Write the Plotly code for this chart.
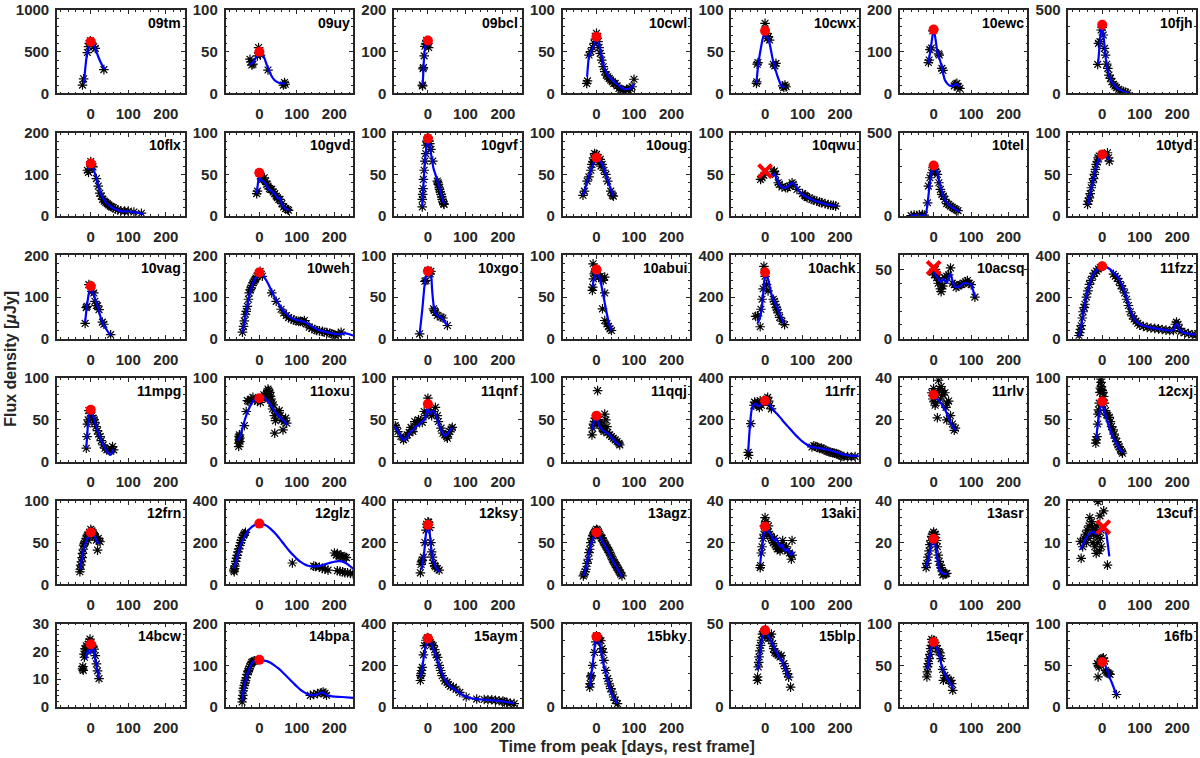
import plotly.graph_objects as go
from plotly.subplots import make_subplots

# panel order, row by row
names = ["09tm", "09uy", "09bcl", "10cwl", "10cwx", "10ewc", "10fjh",
         "10flx", "10gvd", "10gvf", "10oug", "10qwu", "10tel", "10tyd",
         "10vag", "10weh", "10xgo", "10abui", "10achk", "10acsq", "11fzz",
         "11mpg", "11oxu", "11qnf", "11qqj", "11rfr", "11rlv", "12cxj",
         "12frn", "12glz", "12ksy", "13agz", "13aki", "13asr", "13cuf",
         "14bcw", "14bpa", "15aym", "15bky", "15blp", "15eqr", "16fb"]

ymax = [1000, 100, 200, 100, 100, 200, 500,
        200, 100, 100, 100, 100, 500, 100,
        200, 200, 100, 100, 400, 60, 400,
        100, 100, 100, 100, 400, 40, 100,
        100, 400, 400, 100, 40, 40, 20,
        30, 200, 400, 500, 50, 100, 100]

ystep = [500, 50, 100, 50, 50, 100, 500,
         100, 50, 50, 50, 50, 500, 50,
         100, 100, 50, 50, 200, 50, 200,
         50, 50, 50, 50, 200, 20, 50,
         50, 200, 200, 50, 20, 20, 10,
         10, 100, 200, 500, 50, 50, 50]

peak_t = [0] * 34 + [3] + [0] * 7
peak_f = [620, 50, 127, 68, 75, 153, 412,
          126, 52, 93, 70, 54, 303, 74,
          126, 159, 81, 83, 319, 51, 348,
          62, 76, 69, 55, 292, 32, 72,
          62, 291, 285, 62, 27.7, 21.8, 13.7,
          22.6, 113, 329, 421, 46, 78, 54]

# peaks marked with a cross instead of a dot
cross_peaks = ["10qwu", "10acsq", "13cuf"]

xticks = [0, 100, 200]

# observations (t_) and fitted curves (ft_) per object
t_09tm = [-22, -19, -9, -6, -4, -1, 2, 8, 12, 35]
f_09tm = [100, 175, 490, 560, 600, 630, 610, 560, 540, 285]
ft_09tm = [-18, -14, -10, -5, 0, 5, 10, 20, 30, 37]
ff_09tm = [120, 330, 470, 570, 615, 605, 560, 440, 340, 290]

t_09uy = [-25, -22, -20, -17, -5, -2, 0, 3, 23, 64, 67, 69]
f_09uy = [41, 38, 34, 35, 45, 55, 49, 46, 28, 10, 13, 11]
ft_09uy = [-26, -20, -15, -8, -3, 0, 5, 12, 20, 30, 40, 50, 60, 68]
ff_09uy = [35, 36, 38, 44, 48, 50, 48, 44, 34, 23, 16, 13, 12, 12]

t_09bcl = [-15, -14, -13, -12, -10, -8, -6, -3, 0, 2]
f_09bcl = [20, 18, 59, 62, 90, 113, 118, 127, 120, 110]
ft_09bcl = [-14, -12, -10, -7, -4, 0]
ff_09bcl = [20, 55, 90, 112, 122, 127]

t_10cwl = [-26, -24, -20, -15, -10, -6, -3, 0, 2, 4, 7, 10, 14, 18, 22, 26, 30, 34, 38, 42,
           46, 50, 55, 60, 65, 70, 75, 80, 85, 90, 95, 100]
f_10cwl = [12, 15, 46, 50, 55, 60, 65, 72, 66, 62, 55, 48, 40, 32, 26, 22, 20, 18, 16, 14,
           12, 12, 9, 6, 5, 4, 3, 5, 4, 6, 8, 17]
ft_10cwl = [-25, -20, -15, -8, -3, 0, 5, 10, 15, 20, 30, 40, 50, 60, 70, 80, 90, 100]
ff_10cwl = [20, 44, 50, 56, 64, 68, 62, 52, 42, 32, 22, 17, 13, 9, 6, 5, 6, 11]

t_10cwx = [-23, -22, -21, -19, 0, 3, 6, 9, 12, 22, 26, 29, 47, 50, 53, 56]
f_10cwx = [12, 14, 35, 37, 84, 72, 66, 68, 64, 35, 33, 36, 9, 7, 10, 8]
ft_10cwx = [-23, -18, -12, -6, 0, 6, 12, 20, 28, 36, 44, 52]
ff_10cwx = [12, 35, 52, 66, 73, 68, 60, 42, 28, 17, 9, 7]

t_10ewc = [-14, -12, -10, -6, -2, 13, 15, 22, 25, 55, 58, 62, 65, 70]
f_10ewc = [74, 80, 105, 109, 150, 95, 92, 60, 55, 18, 22, 24, 15, 12]
ft_10ewc = [-14, -10, -5, 0, 5, 10, 15, 20, 25, 30, 38, 45, 52, 58, 64, 68]
ff_10ewc = [72, 95, 125, 153, 130, 100, 85, 70, 50, 32, 22, 18, 18, 23, 20, 17]

t_10fjh = [-12, -10, -6, -3, 0, 3, 6, 9, 12, 15, 18, 22, 26, 30, 34, 38, 44, 50, 56, 62, 68]
f_10fjh = [174, 300, 310, 380, 395, 350, 270, 230, 175, 150, 110, 90, 70, 55, 45, 35, 25, 15, 12, 6, 2]
ft_10fjh = [-11, -8, -5, -2, 0, 3, 6, 10, 15, 20, 25, 30, 40, 50, 60, 70]
ff_10fjh = [175, 260, 340, 395, 410, 360, 290, 200, 130, 95, 70, 55, 32, 18, 8, 3]

t_10flx = [-9, -6, -3, 0, 3, 6, 15, 20, 24, 28, 32, 36, 40, 44, 48, 52, 56, 60, 66, 72, 80, 90,
           100, 115, 135]
f_10flx = [110, 105, 113, 131, 120, 118, 90, 72, 55, 48, 40, 36, 33, 30, 27, 24, 22, 20, 17, 15,
           13, 12, 12, 10, 7]
ft_10flx = [-8, 0, 5, 10, 15, 20, 25, 30, 40, 50, 60, 70, 80, 100, 120, 140]
ff_10flx = [112, 126, 118, 105, 90, 73, 58, 47, 33, 25, 19, 15, 12, 11, 9, 5]

t_10gvd = [-7, -5, 0, 3, 6, 9, 13, 17, 20, 23, 27, 30, 33, 37, 41, 45, 48, 52, 55, 60, 65, 70, 75, 78]
f_10gvd = [27, 30, 52, 48, 45, 44, 46, 42, 38, 36, 33, 32, 32, 29, 27, 24, 22, 20, 20, 15, 11, 9, 8, 7]
ft_10gvd = [-7, -3, 0, 5, 10, 15, 20, 25, 30, 35, 40, 45, 50, 55, 60, 65, 70, 78]
ff_10gvd = [27, 42, 52, 43, 42, 40, 36, 32, 31, 29, 27, 24, 21, 22, 14, 11, 9, 7]

t_10gvf = [-15, -15, -14, -13, -12, -10, -8, -6, -5, -3, 0, 3, 5, 8, 13, 25, 27, 28, 30, 31, 33,
           35, 37, 38, 40, 42, 43]
f_10gvf = [11, 20, 26, 33, 44, 55, 66, 75, 85, 90, 94, 90, 87, 80, 66, 42, 40, 38, 34, 32, 29,
           26, 23, 20, 17, 15, 14]
ft_10gvf = [-15, -12, -9, -6, -3, 0, 3, 6, 10, 15, 20, 25, 30, 35, 40, 43]
ff_10gvf = [11, 35, 58, 75, 86, 90, 88, 82, 70, 57, 50, 43, 35, 27, 19, 15]

t_10oug = [-36, -32, -25, -20, -15, -12, -10, -8, -5, -3, 0, 2, 5, 8, 10, 12, 15, 20, 25, 30, 38, 42, 45]
f_10oug = [25, 30, 42, 47, 55, 62, 65, 70, 75, 72, 74, 68, 70, 65, 68, 60, 62, 55, 50, 42, 30, 25, 24]
ft_10oug = [-36, -30, -25, -20, -15, -10, -5, 0, 5, 10, 15, 20, 25, 30, 35, 40, 45]
ff_10oug = [25, 33, 42, 48, 55, 61, 66, 70, 69, 66, 62, 56, 50, 43, 36, 30, 24]

t_10qwu = [-12, -8, -3, 22, 25, 28, 35, 38, 45, 55, 60, 65, 72, 75, 85, 100, 105, 108, 112, 118,
           125, 130, 138, 145, 150, 160, 168, 175, 182, 188]
f_10qwu = [44, 46, 49, 53, 54, 50, 40, 38, 35, 34, 34, 36, 40, 38, 32, 27, 25, 24, 22, 22,
           20, 19, 18, 17, 16, 15, 14, 13, 13, 12]
ft_10qwu = [20, 25, 30, 38, 48, 58, 66, 73, 80, 90, 100, 110, 120, 135, 150, 165, 180, 190]
ff_10qwu = [48, 51, 46, 38, 34, 35, 38, 40, 37, 30, 26, 23, 21, 18, 16, 14, 13, 12]

t_10tel = [-60, -52, -45, -38, -30, -25, -16, -14, -10, -5, -2, 0, 3, 6, 10, 14, 18, 22, 26, 30,
           35, 40, 45, 50, 55, 60, 65]
f_10tel = [3, 6, 4, 8, 10, 6, 80, 180, 230, 260, 290, 300, 280, 270, 250, 200, 160, 130, 120, 100,
           75, 70, 60, 53, 45, 38, 33]
ft_10tel = [-62, -45, -30, -22, -16, -10, -5, 0, 5, 10, 15, 20, 25, 30, 40, 50, 60, 68]
ff_10tel = [3, 4, 4, 6, 80, 200, 270, 300, 290, 260, 210, 165, 125, 95, 68, 52, 38, 28]

t_10tyd = [-39, -37, -34, -32, -29, -26, -23, -21, -18, -16, -13, -11, -8, 14, 17, 19]
f_10tyd = [14, 18, 22, 27, 34, 40, 45, 50, 56, 62, 65, 70, 72, 76, 70, 66]
ft_10tyd = [-39, -32, -25, -18, -10, -5, 0, 5, 10, 15, 18]
ff_10tyd = [14, 27, 42, 56, 67, 72, 74, 74, 73, 70, 67]

t_10vag = [-15, -12, -10, -5, 0, 3, 8, 11, 15, 18, 22, 31, 35, 53]
f_10vag = [37, 75, 78, 130, 128, 114, 110, 90, 80, 79, 70, 40, 35, 10]
ft_10vag = [-15, -10, -5, 0, 5, 10, 15, 20, 25, 30, 35, 40, 45, 53]
ff_10vag = [40, 80, 110, 126, 114, 100, 86, 72, 55, 42, 32, 25, 18, 8]

t_10weh = [-45, -42, -40, -37, -35, -32, -29, -27, -24, -22, -19, -17, -14, -11, -9, -6, -2, 2, 8,
           33, 45, 58, 65, 72, 78, 85, 92, 98, 105, 110, 115, 120, 125, 133, 140, 148, 153, 160,
           168, 173, 180, 188, 193, 198, 203, 210, 218]
f_10weh = [16, 30, 43, 59, 66, 78, 95, 110, 118, 122, 128, 134, 138, 142, 146, 150, 158, 162, 150,
           110, 90, 71, 62, 56, 51, 48, 45, 43, 42, 42, 41, 44, 36, 28, 25, 22, 20, 19,
           18, 16, 15, 14, 12, 10, 8, 10, 16]
ft_10weh = [-45, -40, -35, -30, -25, -20, -15, -10, -5, 0, 10, 20, 30, 40, 50, 60, 70, 80, 90, 100,
            110, 120, 130, 140, 150, 160, 170, 180, 190, 200, 210, 220, 230, 240, 250]
ff_10weh = [15, 40, 65, 90, 110, 125, 137, 146, 154, 159, 152, 138, 120, 101, 86, 72, 62, 54, 48, 45,
            43, 41, 36, 30, 25, 21, 18, 16, 14, 12, 11, 12, 13, 11, 8]

t_10xgo = [-22, -8, -5, 0, 3, 6, 8, 15, 17, 20, 25, 35, 40, 52]
f_10xgo = [6, 69, 70, 82, 80, 78, 81, 36, 34, 32, 28, 26, 25, 16]
ft_10xgo = [-22, -15, -8, -3, 0, 4, 8, 11, 14, 17, 22, 28, 35, 42, 52]
ff_10xgo = [6, 35, 68, 79, 80, 80, 78, 60, 45, 34, 29, 27, 26, 22, 16]

t_10abui = [-11, -10, -9, -8, -6, -4, -2, 0, 3, 6, 10, 14, 18, 22, 22, 16, 22, 28, 32, 36, 40]
f_10abui = [58, 62, 90, 72, 78, 80, 84, 83, 78, 74, 75, 72, 70, 74, 55, 36, 22, 18, 15, 12, 10]
ft_10abui = [-11, -6, -3, 0, 5, 10, 15, 20, 25, 30, 35, 40]
ff_10abui = [62, 74, 80, 83, 78, 70, 60, 48, 36, 25, 16, 10]

t_10achk = [-25, -20, -13, -11, -8, -5, -3, 0, 4, 8, 22, 25, 27, 30, 32, 35, 39, 45, 52]
f_10achk = [108, 110, 58, 142, 190, 240, 348, 300, 261, 230, 190, 180, 166, 150, 142, 125, 103, 85, 68]
ft_10achk = [-20, -15, -10, -6, -3, 0, 3, 6, 10, 15, 20, 25, 30, 35, 40, 45, 50]
ff_10achk = [75, 95, 130, 190, 260, 300, 312, 300, 270, 230, 195, 178, 160, 140, 115, 95, 75]

t_10acsq = [-3, 2, 5, 8, 10, 12, 15, 18, 20, 22, 25, 30, 35, 40, 45, 50, 55, 60, 65, 70, 75, 80,
            85, 90, 95, 100, 110]
f_10acsq = [48, 46, 50, 44, 46, 40, 42, 36, 34, 38, 38, 44, 45, 46, 51, 40, 39, 37, 38, 39, 39, 40,
            41, 42, 40, 39, 30]
ft_10acsq = [0, 5, 10, 15, 20, 25, 30, 35, 40, 45, 50, 55, 60, 70, 80, 90, 100, 105, 110]
ff_10acsq = [48, 46, 44, 42, 41, 43, 42, 40, 44, 47, 42, 38, 37, 38, 40, 40, 39, 35, 30]

t_11fzz = [-62, -60, -58, -56, -53, -51, -48, -46, -42, -38, -34, -30, -25, -20, -15, -10, -5, 0,
           30, 35, 40, 45, 50, 55, 60, 65, 70, 75, 80, 85, 90, 95, 100, 110, 120, 130, 140, 150,
           160, 170, 180, 190, 195, 198, 202, 205, 210, 220, 230, 240, 250]
f_11fzz = [16, 30, 45, 63, 100, 130, 150, 166, 200, 230, 261, 280, 300, 315, 325, 335, 342, 348,
           310, 300, 290, 275, 255, 240, 220, 190, 160, 130, 110, 95, 85, 75, 65, 60, 55, 52, 50, 48,
           45, 42, 40, 40, 70, 80, 70, 50, 35, 30, 25, 20, 18]
ft_11fzz = [-62, -55, -48, -40, -32, -25, -15, -5, 0, 10, 20, 30, 40, 50, 60, 70, 80, 90, 100,
            120, 140, 160, 180, 190, 195, 200, 205, 215, 230, 250]
ff_11fzz = [10, 75, 155, 225, 275, 305, 330, 345, 348, 345, 335, 318, 300, 268, 220, 165, 115, 85, 70,
            58, 50, 45, 40, 42, 65, 72, 48, 32, 25, 20]

t_11mpg = [-12, -10, -9, -7, -5, -2, 3, 6, 9, 11, 14, 18, 21, 25, 28, 33, 38, 43, 50, 55, 58, 61]
f_11mpg = [16, 30, 45, 50, 61, 58, 55, 52, 50, 47, 42, 37, 33, 30, 25, 20, 16, 14, 13, 15, 18, 14]
ft_11mpg = [-12, -9, -6, -3, 0, 3, 7, 12, 17, 22, 27, 32, 37, 42, 47, 52, 56, 60]
ff_11mpg = [16, 35, 52, 60, 61, 58, 54, 46, 38, 32, 26, 21, 17, 13, 10, 8, 10, 15]

t_11oxu = [-55, -55, -54, -54, -53, -52, -52, -40, -35, -32, -28, -22, -17, -12, -5, 3, 8, 12, 15,
           18, 20, 22, 23, 25, 26, 28, 30, 32, 33, 35, 37, 40, 41, 43, 46, 50, 53, 56, 60, 63, 66,
           70, 73]
f_11oxu = [18, 22, 26, 30, 32, 24, 28, 43, 60, 73, 72, 75, 77, 74, 72, 71, 76, 80, 78,
           77, 82, 84, 87, 85, 80, 83, 78, 75, 70, 63, 68, 55, 34, 49, 60, 58, 61, 55, 50, 38, 48,
           52, 46]
ft_11oxu = [-55, -50, -45, -40, -35, -30, -25, -20, -15, -10, -5, 0, 5, 10, 15, 20, 25, 30, 35, 40,
            45, 50, 55, 60, 65, 70, 75]
ff_11oxu = [25, 33, 40, 48, 55, 61, 66, 70, 73, 75, 76, 76, 77, 77, 76, 74, 71, 68, 64, 61,
            58, 55, 53, 51, 49, 46, 44]

t_11qnf = [-87, -85, -80, -72, -65, -60, -55, -50, -45, -42, -40, -35, -30, -25, -20, -15, -10, -5,
           0, 3, 8, 10, 15, 20, 25, 28, 35, 40, 45, 50, 52, 55, 58, 62, 65]
f_11qnf = [43, 41, 36, 30, 26, 28, 32, 35, 41, 38, 36, 48, 45, 50, 49, 47, 60, 55,
           76, 62, 58, 55, 60, 65, 55, 48, 40, 34, 32, 30, 28, 33, 36, 39, 41]
ft_11qnf = [-90, -82, -75, -68, -62, -55, -48, -40, -32, -25, -18, -10, -5, -2, 0, 3, 6, 10, 15,
            20, 25, 30, 35, 40, 45, 50, 55, 60, 65]
ff_11qnf = [42, 38, 32, 27, 26, 30, 35, 38, 42, 44, 47, 50, 56, 64, 66, 60, 57, 60, 60,
            57, 50, 44, 38, 34, 31, 32, 35, 38, 41]

t_11qqj = [-12, -10, -8, -5, -3, 0, 3, 5, 8, 10, 13, 15, 18, 20, 22, 25, 28, 30, 35, 40, 45, 50,
           55, 60, 62]
f_11qqj = [32, 40, 45, 48, 52, 55, 85, 50, 47, 45, 43, 40, 38, 36, 57, 50, 42, 35, 32, 30, 28, 26,
           24, 22, 20]
ft_11qqj = [-12, -8, -4, 0, 4, 8, 12, 18, 25, 32, 40, 48, 55, 63]
ff_11qqj = [38, 46, 52, 54, 48, 42, 40, 37, 35, 33, 29, 25, 22, 19]

t_11rfr = [-45, -44, -38, -30, -28, -25, -22, -18, -15, -13, -10, -5, 0, 5, 7, 10, 12, 17, 125,
           130, 135, 140, 145, 150, 155, 160, 165, 170, 175, 180, 185, 190, 195, 200, 205, 210,
           220, 230, 240]
f_11rfr = [44, 30, 182, 270, 285, 280, 275, 269, 260, 292, 270, 285, 292, 300, 308, 290, 269, 253, 70,
           76, 72, 68, 63, 65, 60, 55, 50, 47, 45, 42, 40, 38, 35, 30, 25, 24,
           24, 22, 24]
ft_11rfr = [-45, -40, -35, -30, -25, -20, -15, -10, -5, 0, 5, 10, 20, 30, 40, 50, 60, 70, 80, 90,
            100, 110, 120, 130, 140, 150, 160, 170, 180, 190, 200, 210, 220, 235, 250]
ff_11rfr = [45, 180, 255, 272, 278, 268, 266, 275, 282, 290, 288, 275, 252, 232, 212, 190, 170, 150,
            130, 112, 96, 83, 72, 68, 66, 63, 60, 56, 50, 44, 38, 33, 29, 27, 28]

t_11rlv = [-5, -2, 0, 2, 4, 5, 7, 10, 10, 13, 15, 18, 20, 22, 25, 30, 33, 35, 35, 40, 45, 50, 55, 58]
f_11rlv = [33, 30, 35, 29, 27, 28, 32, 21, 33, 39, 35, 30, 36, 34, 32, 33, 26, 28, 20, 29, 22, 18, 15, 16]
ft_11rlv = [0, 5, 10, 15, 20, 25, 30, 35, 40, 45, 50, 58]
ff_11rlv = [32, 31, 30, 29, 28, 26, 25, 23, 21, 19, 17, 15]

t_12cxj = [-17, -16, -14, -12, -11, -10, -8, -6, -5, -4, -3, -2, 0, 2, 4, 6, 9, 12, 15, 19, 22,
           25, 29, 32, 35, 39, 42, 45, 49, 52, 54]
f_12cxj = [22, 26, 30, 45, 57, 62, 70, 83, 88, 99, 95, 90, 85, 83, 78, 70, 61, 56, 55, 53, 48,
           42, 38, 33, 28, 24, 20, 18, 14, 12, 10]
ft_12cxj = [-16, -13, -10, -7, -4, -2, 0, 3, 6, 10, 15, 20, 25, 30, 35, 40, 45, 50, 54]
ff_12cxj = [27, 40, 50, 60, 67, 70, 71, 66, 60, 53, 46, 39, 33, 28, 24, 20, 16, 13, 11]

t_12frn = [-29, -28, -27, -25, -23, -22, -20, -19, -17, -15, -12, -10, -9, -7, -5, -3, 0, 3, 6, 8,
           10, 12, 15, 18, 20, 22, 25]
f_12frn = [15, 18, 23, 27, 32, 37, 42, 47, 49, 51, 55, 57, 59, 53, 60, 62, 66, 64, 62, 60,
           58, 57, 53, 41, 55, 52, 51]
ft_12frn = [-29, -25, -20, -15, -10, -5, 0, 4, 8, 12, 16, 20]
ff_12frn = [18, 28, 40, 48, 54, 58, 62, 63, 60, 56, 52, 48]

t_12glz = [-68, -67, -66, -65, -63, -61, -59, -57, -55, -52, -50, -48, -45, -42, -40, -37, 88, 145,
           150, 160, 168, 175, 183, 200, 205, 208, 212, 215, 218, 222, 228, 232, 208, 215, 222,
           228, 235, 243, 250]
f_12glz = [68, 60, 75, 87, 110, 125, 139, 155, 170, 186, 200, 210, 225, 235, 242, 249, 102, 87,
           85, 82, 76, 72, 68, 150, 140, 147, 138, 135, 139, 130, 130, 128, 65, 62, 60,
           55, 55, 52, 50]
ft_12glz = [-67, -60, -50, -40, -30, -20, -10, 0, 10, 20, 30, 40, 50, 60, 70, 80, 90, 100, 110,
            120, 130, 140, 150, 160, 170, 180, 190, 200, 210, 220, 230, 240, 250]
ff_12glz = [75, 125, 185, 225, 256, 275, 287, 291, 289, 280, 266, 248, 228, 205, 182, 160, 140, 122,
            107, 96, 89, 86, 86, 88, 93, 98, 104, 108, 111, 110, 102, 90, 75]

t_12ksy = [-20, -18, -17, -15, -12, -8, -5, -3, 0, 2, 5, 8, 10, 12, 15, 18, 20, 25, 30]
f_12ksy = [55, 95, 107, 115, 130, 200, 260, 288, 300, 297, 272, 200, 155, 130, 100, 90, 84, 75, 68]
ft_12ksy = [-17, -13, -9, -6, -3, 0, 3, 6, 9, 12, 16, 20, 25, 30]
ff_12ksy = [70, 110, 170, 230, 270, 285, 270, 225, 165, 125, 100, 85, 70, 60]

t_13agz = [-35, -33, -30, -28, -25, -22, -20, -18, -15, -12, -10, -8, -5, -3, 0, 3, 5, 8, 10, 13,
           15, 18, 20, 23, 25, 28, 30, 33, 35, 38, 40, 43, 45, 48, 50, 53, 55, 58, 60, 63, 65, 68]
f_13agz = [10, 12, 15, 18, 25, 30, 38, 42, 50, 55, 58, 60, 62, 64, 66, 65, 63, 60, 58, 56,
           55, 52, 50, 48, 46, 44, 42, 40, 38, 35, 33, 30, 28, 26, 24, 22, 20, 18, 16, 14, 12, 10]
ft_13agz = [-35, -30, -25, -20, -15, -10, -5, 0, 5, 10, 15, 20, 25, 30, 35, 40, 45, 50, 55, 60, 65, 68]
ff_13agz = [10, 17, 27, 37, 47, 54, 59, 61, 59, 56, 52, 48, 44, 40, 35, 31, 27, 23, 19, 15, 11, 9]

t_13aki = [-13, -12, -10, -8, -5, -3, -2, 0, 2, 3, 5, 7, 9, 12, 15, 17, 20, 22, 25, 27, 30, 33, 35,
           37, 40, 43, 47, 50, 53, 57, 60, 65, 70, 72, 72]
f_13aki = [8, 9, 15, 18, 22, 24, 28, 32, 30, 26, 25, 25, 28, 24, 23, 22, 21, 20, 22, 19, 18, 17, 18,
           17, 16, 19, 21, 18, 17, 18, 16, 15, 12, 21, 14]
ft_13aki = [-13, -8, -4, 0, 5, 10, 15, 20, 25, 30, 35, 40, 45, 50, 55, 60, 65, 70, 73]
ff_13aki = [10, 18, 24, 27, 26, 25, 24, 22, 21, 22, 20, 18, 19, 17, 16, 17, 15, 14, 16]

t_13asr = [-20, -18, -15, -12, -10, -7, -5, -3, 0, 3, 5, 8, 10, 12, 15, 18, 20, 23, 25, 28, 32, 35]
f_13asr = [8, 10, 13, 16, 19, 21, 23, 24, 25, 24, 24, 21, 18, 14, 11, 9, 8, 6, 4.5, 5, 5, 5.2]
ft_13asr = [-20, -15, -10, -5, -2, 0, 3, 6, 10, 14, 18, 22, 28, 35]
ff_13asr = [8, 12, 16, 20, 21.5, 21.8, 20, 17, 12, 8, 6, 5.5, 5, 5]

t_13cuf = [-58, -56, -52, -48, -45, -42, -40, -38, -35, -33, -30, -28, -26, -24, -22, -20, -18, -16,
           -16, -14, -12, -11, -10, -8, -6, -5, -3, -2, 4, 14]
f_13cuf = [10.3, 6.2, 9, 11, 12, 10, 13, 11, 14, 16, 12, 15, 13.6, 10, 12, 9, 13, 11.7,
           7.4, 14, 10, 19.8, 12, 8, 16.4, 11, 13, 9, 17.6, 4.6]
ft_13cuf = [-58, -50, -40, -30, -24, -18, -12, -6, 0, 5, 10, 15, 19]
ff_13cuf = [8.3, 9.8, 11.5, 12.4, 12.6, 12.1, 12.5, 13.3, 12.8, 13.2, 12.5, 9.5, 6.7]

t_14bcw = [-22, -21, -20, -18, -17, -15, -14, -12, -10, -6, -4, -2, 0, 3, 6, 9, 12, 15, 18, 22]
f_14bcw = [13.7, 14.5, 13.2, 19, 17.9, 21, 20.8, 22, 21.5, 22.6, 23.5, 24.4, 23, 22, 21.5, 20.8,
           18.5, 15.5, 13, 10.2]
ft_14bcw = [-13, -10, -7, -4, -1, 2, 5, 8, 11, 14, 18, 22]
ff_14bcw = [17, 19, 20.5, 19.5, 19.2, 20.5, 21.5, 20.5, 18, 15.5, 13, 10.2]

t_14bpa = [-46, -45, -44, -43, -42, -40, -38, -37, -35, -33, -30, -29, -27, -25, -22, -20, -17, -14,
           -12, 136, 145, 155, 165, 170, 175, 179]
f_14bpa = [12, 20, 28, 39, 45, 52, 58, 63, 70, 78, 84, 87, 92, 97, 103, 107, 109, 110,
           111, 28, 30, 32, 34, 36, 33, 28]
ft_14bpa = [-46, -42, -38, -34, -30, -25, -20, -15, -10, -5, 0, 10, 20, 30, 40, 50, 60, 70, 80, 90,
            100, 110, 120, 130, 140, 150, 160, 165, 170, 180, 190, 200, 220, 250]
ff_14bpa = [15, 40, 58, 72, 84, 96, 104, 109, 112, 113, 113, 112, 110, 106, 100, 93, 85, 76, 67, 58,
            49, 41, 35, 30, 28, 29, 33, 35, 34, 28, 26, 25, 24, 22]

t_15aym = [-20, -19, -18, -17, -15, -12, -9, -5, -2, 0, 3, 6, 10, 14, 18, 22, 26, 30, 34, 38, 45,
           51, 55, 60, 68, 75, 85, 102, 130, 150, 160, 170, 180, 190, 200, 204, 210, 220, 230]
f_15aym = [127, 150, 160, 175, 190, 250, 294, 320, 330, 333, 320, 310, 300, 294, 275, 250, 238, 200,
           175, 150, 125, 119, 108, 100, 95, 85, 70, 48, 38, 36, 35, 35, 32, 30, 28, 24, 22, 18, 16]
ft_15aym = [-20, -15, -10, -5, 0, 5, 10, 15, 20, 25, 30, 35, 40, 50, 60, 70, 80, 90, 100, 120, 140,
            160, 180, 200, 215, 230]
ff_15aym = [140, 190, 250, 300, 330, 318, 300, 275, 250, 222, 195, 172, 150, 118, 98, 85, 73, 60, 50,
            40, 36, 34, 31, 27, 22, 18]

t_15bky = [-18, -17, -15, -14, -10, -5, -2, 0, 3, 6, 9, 12, 15, 17, 20, 25, 30, 34, 38, 42, 46, 50, 56]
f_15bky = [119, 140, 180, 188, 250, 327, 390, 427, 420, 410, 400, 397, 350, 327, 280, 220, 170, 139,
           110, 90, 60, 40, 20]
ft_15bky = [-18, -14, -10, -6, -3, 0, 3, 6, 10, 15, 20, 25, 30, 35, 40, 45, 50, 56]
ff_15bky = [120, 190, 260, 340, 390, 420, 418, 400, 360, 300, 240, 195, 150, 110, 80, 55, 38, 20]

t_15blp = [-20, -20, -18, -17, -16, -14, -12, -10, -7, -4, -2, 0, 3, 6, 10, 14, 17, 20, 23, 26, 30,
           35, 40, 43, 50, 55, 60, 63, 68]
f_15blp = [16, 18, 24, 26.8, 30, 33.7, 37, 40, 43.7, 45, 44, 46, 44, 42, 41, 42, 43.7, 38, 35, 32.7,
           32, 31, 30, 30.8, 26, 23, 20, 17.9, 11.9]
ft_15blp = [-20, -16, -12, -8, -4, 0, 5, 10, 15, 20, 25, 30, 35, 40, 45, 50, 55, 60, 63]
ff_15blp = [22, 28, 35, 41, 44, 45, 44, 42, 40, 38, 35, 33, 31, 29, 28, 25, 22, 19, 17]

t_15eqr = [-18, -17, -16, -14, -12, -10, -8, -6, -5, -3, 0, 3, 6, 10, 14, 17, 20, 24, 26, 30, 35,
           40, 46, 48, 51]
f_15eqr = [36, 42, 48, 52, 58, 63, 70, 74, 81, 78, 80, 77, 74, 70, 66, 65, 58, 45, 32, 38, 35,
           32, 32, 28, 20]
ft_15eqr = [-17, -13, -9, -5, -2, 0, 4, 8, 12, 16, 20, 25, 30, 35, 40, 45, 52]
ff_15eqr = [45, 56, 66, 73, 76, 77, 76, 72, 66, 60, 52, 45, 40, 35, 31, 28, 22]

t_16fb = [-13, -11, -10, -8, -5, -2, 0, 3, 6, 9, 12, 15, 18, 21, 38]
f_16fb = [52, 36, 50, 48, 55, 57, 58, 59, 55, 44, 42, 41, 40, 39, 15]
ft_16fb = [-10, -5, 0, 5, 10, 15, 20, 25, 30, 38]
ff_16fb = [52, 54, 56, 54, 48, 42, 35, 30, 24, 14]

nrows, ncols = 6, 7
axis_col = "#262626"

fig = make_subplots(rows=nrows, cols=ncols,
                    horizontal_spacing=0.036, vertical_spacing=0.0564)

for i, name in enumerate(names):
    r, c = i // ncols + 1, i % ncols + 1
    g = globals()
    # observations
    fig.add_trace(go.Scatter(x=g["t_" + name], y=g["f_" + name], mode="markers",
                             marker=dict(symbol="asterisk-open", size=8, color="black",
                                         line=dict(color="black", width=1.2)),
                             showlegend=False, hoverinfo="skip"), row=r, col=c)
    # fitted light curve
    fig.add_trace(go.Scatter(x=g["ft_" + name], y=g["ff_" + name], mode="lines",
                             line=dict(color="#0000FF", width=2.2, shape="spline", smoothing=0.7),
                             showlegend=False, hoverinfo="skip"), row=r, col=c)
    # peak
    if name in cross_peaks:
        mk = dict(symbol="x-thin-open", size=13, color="red", line=dict(color="red", width=4))
    else:
        mk = dict(symbol="circle", size=10, color="red", line=dict(width=0))
    fig.add_trace(go.Scatter(x=[peak_t[i]], y=[peak_f[i]], mode="markers", marker=mk,
                             showlegend=False, hoverinfo="skip"), row=r, col=c)

    yt = list(range(0, ymax[i] + 1, ystep[i]))
    fig.update_xaxes(range=[-90, 250], tickvals=xticks, ticks="inside", ticklen=4,
                     tickcolor=axis_col, tickwidth=1, showline=True, linecolor=axis_col,
                     linewidth=1.6, mirror="ticks", showgrid=False, zeroline=False,
                     automargin=False,
                     tickfont=dict(family="Liberation Sans", size=15, color=axis_col, weight="bold"),
                     ticklabelstandoff=6,
                     minor=dict(dtick=20, tick0=0, ticks="inside", ticklen=2, tickcolor=axis_col),
                     row=r, col=c)
    fig.update_yaxes(range=[0, ymax[i]], tickvals=yt, ticks="inside", ticklen=4,
                     tickcolor=axis_col, tickwidth=1, showline=True, linecolor=axis_col,
                     linewidth=1.6, mirror="ticks", showgrid=False, zeroline=False,
                     automargin=False,
                     tickfont=dict(family="Liberation Sans", size=15, color=axis_col, weight="bold"),
                     ticklabelstandoff=3,
                     minor=dict(dtick=ystep[i] / 5, tick0=0, ticks="inside", ticklen=2,
                                tickcolor=axis_col),
                     row=r, col=c)

    ax = "x" if i == 0 else "x%d" % (i + 1)
    ay = "y" if i == 0 else "y%d" % (i + 1)
    fig.add_annotation(text="<b>%s</b>" % name, xref=ax + " domain", yref=ay + " domain",
                       x=0.99, y=0.97, xanchor="right", yanchor="top", showarrow=False,
                       font=dict(family="Liberation Sans", size=14, color="black"))

fig.add_annotation(text="<b>Time from peak [days, rest frame]</b>", xref="paper", yref="paper",
                   x=0.5, y=-0.057, xanchor="center", yanchor="middle", showarrow=False,
                   font=dict(family="Liberation Sans", size=16, color=axis_col))
fig.add_annotation(text="<b>Flux density [<i>μ</i>Jy]</b>", xref="paper", yref="paper",
                   x=-0.041, y=0.5, xanchor="center", yanchor="middle", textangle=-90,
                   showarrow=False, font=dict(family="Liberation Sans", size=16, color=axis_col))

fig.update_layout(width=1200, height=758, margin=dict(l=57, r=4, t=10, b=51),
                  paper_bgcolor="white", plot_bgcolor="white")

# page margin off so the figure fills the window; no toolbar
fig.write_html("out.html", config={"displayModeBar": False},
               post_script="document.body.style.margin='0';")
